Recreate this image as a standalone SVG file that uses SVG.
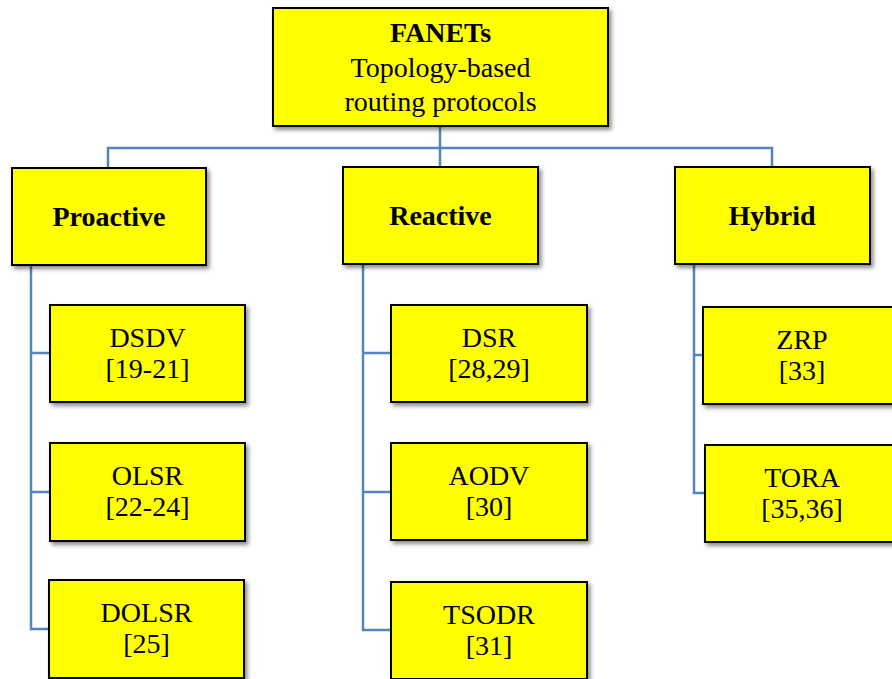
<svg xmlns="http://www.w3.org/2000/svg" width="892" height="679" viewBox="0 0 892 679">
<defs>
<filter id="sh" x="-10%" y="-10%" width="130%" height="130%">
<feDropShadow dx="2.5" dy="3" stdDeviation="2" flood-color="#000" flood-opacity="0.45"/>
</filter>
</defs>
<style>
.box{fill:#ffff00;stroke:#000;stroke-width:2;filter:url(#sh)}
.t{font-family:"Liberation Serif","Times New Roman",serif;font-size:28px;fill:#000;text-anchor:middle}
.b{font-weight:bold}
.c{fill:none;stroke:#5485bd;stroke-width:2.5}
</style>
<rect width="892" height="679" fill="#fff"/>
<g id="connectors">
<path class="c" d="M440 126V148M108 168V148H772V168M440 148V168"/>
<path class="c" d="M31 265V629H50M31 353H50M31 492H50"/>
<path class="c" d="M363 264V630H391M363 353H391M363 492H391"/>
<path class="c" d="M694 264V493H705M694 355H703"/>
</g>
<g id="root">
<rect class="box" x="273" y="8" width="335" height="118"/>
<text class="t b" x="440.5" y="42">FANETs</text>
<text class="t" x="440.5" y="77">Topology-based</text>
<text class="t" x="440.5" y="111">routing protocols</text>
</g>
<g id="proactive">
<rect class="box" x="12" y="168" width="194" height="97"/>
<text class="t b" x="109" y="226">Proactive</text>
</g>
<g id="reactive">
<rect class="box" x="343" y="167" width="195" height="97"/>
<text class="t b" x="440.5" y="225">Reactive</text>
</g>
<g id="hybrid">
<rect class="box" x="675" y="167" width="195" height="97"/>
<text class="t b" x="772" y="225">Hybrid</text>
</g>
<g id="dsdv">
<rect class="box" x="50" y="305" width="195" height="97"/>
<text class="t" x="147.5" y="347">DSDV</text>
<text class="t" x="147.5" y="378">[19-21]</text>
</g>
<g id="olsr">
<rect class="box" x="50" y="443" width="195" height="98"/>
<text class="t" x="147.5" y="485">OLSR</text>
<text class="t" x="147.5" y="516">[22-24]</text>
</g>
<g id="dolsr">
<rect class="box" x="49" y="580" width="195" height="98"/>
<text class="t" x="146.5" y="622">DOLSR</text>
<text class="t" x="146.5" y="653">[25]</text>
</g>
<g id="dsr">
<rect class="box" x="391" y="305" width="196" height="97"/>
<text class="t" x="489" y="347">DSR</text>
<text class="t" x="489" y="378">[28,29]</text>
</g>
<g id="aodv">
<rect class="box" x="391" y="443" width="196" height="97"/>
<text class="t" x="489" y="485">AODV</text>
<text class="t" x="489" y="516">[30]</text>
</g>
<g id="tsodr">
<rect class="box" x="391" y="582" width="196" height="97"/>
<text class="t" x="489" y="624">TSODR</text>
<text class="t" x="489" y="655">[31]</text>
</g>
<g id="zrp">
<rect class="box" x="703" y="307" width="198" height="97"/>
<text class="t" x="802" y="349">ZRP</text>
<text class="t" x="802" y="380">[33]</text>
</g>
<g id="tora">
<rect class="box" x="705" y="445" width="196" height="97"/>
<text class="t" x="802" y="487">TORA</text>
<text class="t" x="802" y="518">[35,36]</text>
</g>
</svg>
